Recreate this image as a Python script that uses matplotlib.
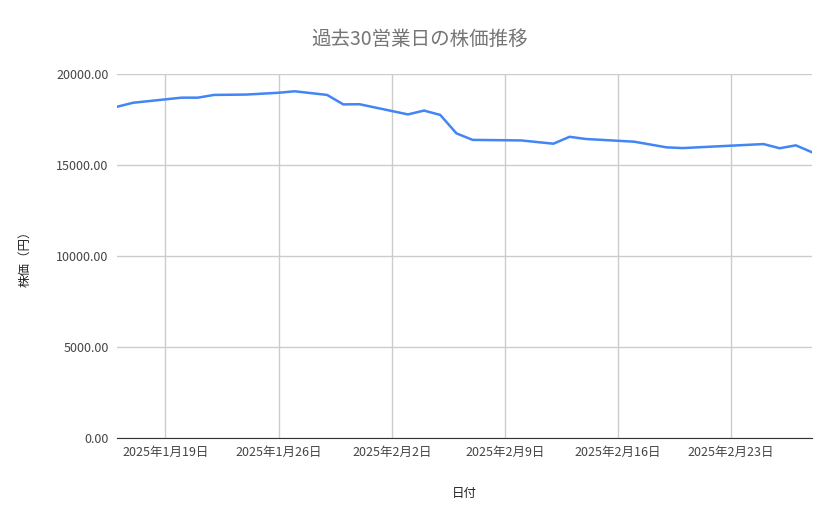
import matplotlib
matplotlib.use("Agg")
import matplotlib.pyplot as plt
import pandas as pd

plt.rcParams['font.family'] = ['Noto Sans CJK JP', 'DejaVu Sans']

dates = ["2025-01-16","2025-01-17","2025-01-20","2025-01-21","2025-01-22","2025-01-24",
         "2025-01-26","2025-01-27","2025-01-29","2025-01-30","2025-01-31","2025-02-03",
         "2025-02-04","2025-02-05","2025-02-06","2025-02-07","2025-02-10","2025-02-12",
         "2025-02-13","2025-02-14","2025-02-17","2025-02-19","2025-02-20","2025-02-25",
         "2025-02-26","2025-02-27","2025-02-28"]
prices = [18200,18420,18700,18700,18850,18870,18970,19050,18850,18330,18340,17780,
          17990,17750,16740,16380,16350,16170,16550,16430,16280,15970,15930,16150,
          15920,16080,15700]
title = "過去30営業日の株価推移"
xlabel = "日付"
ylabel = "株価（円）"
yticks = [0, 5000, 10000, 15000, 20000]
xtick_dates = ["2025-01-19","2025-01-26","2025-02-02","2025-02-09","2025-02-16","2025-02-23"]

x = pd.to_datetime(dates)
fig = plt.figure(figsize=(8.39, 5.19), dpi=100)
ax = fig.add_axes([117/839, 1-438/519, (812-117)/839, (438-74)/519])
ax.plot(x, prices, color="#4285f4", linewidth=1.8)
ax.set_xlim(pd.Timestamp("2025-01-16"), pd.Timestamp("2025-02-28"))
ax.set_ylim(0, 20000)
ax.set_yticks(yticks)
ax.set_yticklabels([f"{v:.2f}" for v in yticks])
xt = pd.to_datetime(xtick_dates)
ax.set_xticks(xt)
ax.set_xticklabels([f"{d.year}年{d.month}月{d.day}日" for d in xt])
ax.grid(True, color="#cccccc", linewidth=1)
ax.set_axisbelow(True)
for s in ["top", "right", "left"]:
    ax.spines[s].set_visible(False)
ax.spines["bottom"].set_color("#333333")
ax.tick_params(length=0, labelsize=9, colors="#444444", pad=6)
fig.text(0.5, 1-39/519, title, fontsize=14, color="#757575", ha="center", va="center")
ax.set_xlabel(xlabel, fontsize=9, color="#222222", labelpad=20)
ax.set_ylabel(ylabel, fontsize=9, color="#222222", labelpad=18)
fig.savefig("out.png", dpi=100, facecolor="white")
